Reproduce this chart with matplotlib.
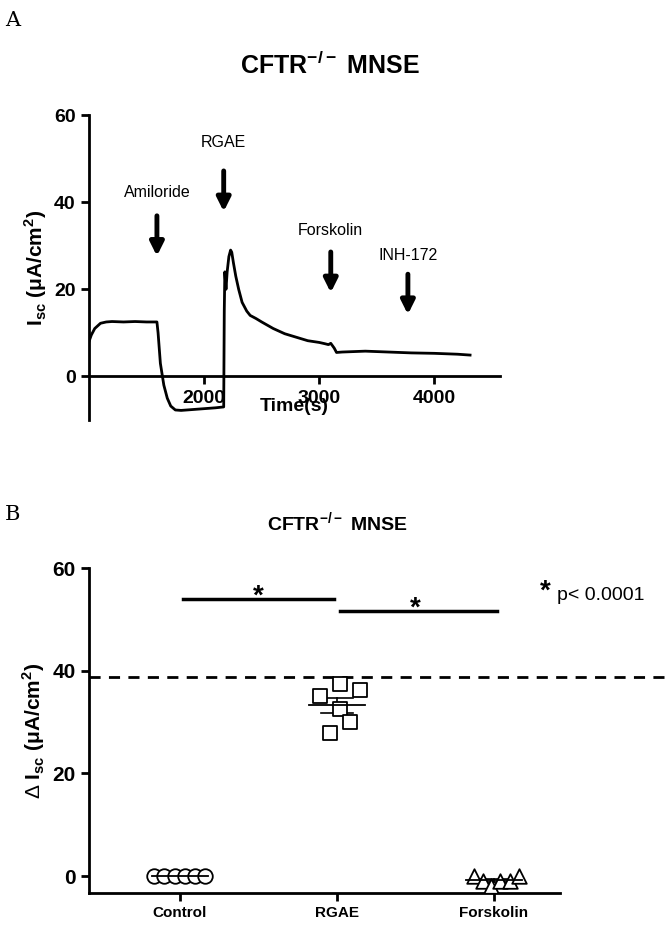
import matplotlib
matplotlib.use("Agg")
import matplotlib.pyplot as plt
import numpy as np

# Panel A trace
time_s = [1000, 1020, 1050, 1100, 1150, 1200, 1300, 1400, 1500, 1590, 1600, 1620, 1650, 1680, 1710, 1750, 1800, 1900, 2000, 2100, 2170,
          2175, 2180, 2190, 2200, 2215, 2230, 2240, 2255, 2275, 2300, 2330, 2370, 2400, 2450, 2500, 2600, 2700, 2800, 2900, 3000,
          3050, 3080, 3100, 3130, 3150, 3200, 3400, 3600, 3800, 4000, 4200, 4310]
isc = [8, 9.5, 11, 12.2, 12.5, 12.6, 12.5, 12.6, 12.5, 12.5, 10, 3, -2, -5, -6.8, -7.7, -7.8, -7.6, -7.4, -7.2, -7.0,
       15, 24, 20, 24, 27.5, 29, 28.5, 26, 23, 20, 17, 15, 14, 13.3, 12.5, 11, 9.8, 9, 8.2, 7.8,
       7.5, 7.3, 7.6, 6.5, 5.5, 5.6, 5.8, 5.6, 5.4, 5.3, 5.1, 4.9]
events = ["Amiloride", "RGAE", "Forskolin", "INH-172"]
event_t = [1590, 2170, 3100, 3770]
event_label_y = [42.3, 53.6, 33.6, 27.8]
event_arrow = [(37.5, 27), (47.8, 37.2), (29.2, 18.6), (24.1, 13.6)]

# Panel B
groups = ["Control", "RGAE", "Forskolin"]
control_vals = [0, 0, 0, 0, 0, 0]
control_x = [-0.165, -0.1, -0.035, 0.03, 0.095, 0.16]
rgae_vals = [37.5, 36.3, 35.1, 32.6, 30.1, 27.8]
rgae_x = [0.02, 0.147, -0.108, 0.02, 0.083, -0.045]
forsk_vals = [0, -1, -2, -1, -1, 0]
forsk_x = [-0.13, -0.07, -0.02, 0.04, 0.1, 0.16]
ref_line = 38.8
sig_bars = [(0, 1, 54.0), (1, 2, 51.6)]

W, H = 669, 934
plt.rcParams['font.family'] = 'Liberation Sans'
plt.rcParams['mathtext.fontset'] = 'custom'
plt.rcParams['mathtext.rm'] = 'Liberation Sans'
plt.rcParams['mathtext.bf'] = 'Liberation Sans:bold'
fig = plt.figure(figsize=(W/100, H/100), dpi=100)

fig.text(5/W, 1-20/H, "A", fontsize=15, family="DejaVu Serif", va="center")
fig.text(5/W, 1-515/H, "B", fontsize=15, family="DejaVu Serif", va="center")
fig.text(330/W, 1-65/H, r"CFTR$^{\mathbf{-/-}}$ MNSE", ha="center", va="center", fontsize=18, fontweight="bold")
fig.text(337/W, 1-523/H, r"CFTR$^{\mathbf{-/-}}$ MNSE", ha="center", va="center", fontsize=14, fontweight="bold")

# Panel A
ax = fig.add_axes([89/W, 1-420/H, 411/W, 305/H])
ax.plot(time_s, isc, color="black", lw=2)
ax.set_xlim(1000, 4570)
ax.set_ylim(-10, 60)
ax.spines['right'].set_visible(False)
ax.spines['top'].set_visible(False)
ax.spines['bottom'].set_position(('data', 0))
for s in ['left', 'bottom']:
    ax.spines[s].set_linewidth(2)
ax.set_yticks([0, 20, 40, 60])
ax.set_xticks([2000, 3000, 4000])
ax.tick_params(width=2, length=6, labelsize=14)
for lab in ax.get_xticklabels() + ax.get_yticklabels():
    lab.set_fontweight("bold")
ax.set_xlabel("Time(s)", fontsize=14, fontweight="bold", va="center")
ax.xaxis.set_label_coords(0.5, 0.043)
ax.set_ylabel(r"I$_{\mathbf{sc}}$ ($\mathbf{\mu}$A/cm$^{\mathbf{2}}$)", fontsize=15, fontweight="bold")
for name, t, ly, (a0, a1) in zip(events, event_t, event_label_y, event_arrow):
    ax.text(t, ly, name, ha="center", va="center", fontsize=11.5)
    ax.annotate("", xy=(t, a1), xytext=(t, a0),
                arrowprops=dict(arrowstyle="-|>,head_width=0.4,head_length=0.8", color="black", lw=3.5))

# Panel B
bx = fig.add_axes([89/W, 1-893/H, 471/W, 325/H])
bx.set_xlim(-0.58, 2.42)
bx.set_ylim(-3.3, 60)
bx.spines['right'].set_visible(False)
bx.spines['top'].set_visible(False)
bx.spines['left'].set_bounds(-3.3, 60)
for s in ['left', 'bottom']:
    bx.spines[s].set_linewidth(2)
bx.set_yticks([0, 20, 40, 60])
bx.set_xticks([0, 1, 2])
bx.set_xticklabels(groups)
bx.tick_params(width=2, length=6)
bx.tick_params(axis='y', labelsize=15)
bx.tick_params(axis='x', labelsize=11)
for lab in bx.get_xticklabels() + bx.get_yticklabels():
    lab.set_fontweight("bold")
bx.set_ylabel(r"$\Delta$ I$_{\mathbf{sc}}$ ($\mathbf{\mu}$A/cm$^{\mathbf{2}}$)", fontsize=15, fontweight="bold")

for xs, vs, m, c in [(control_x, control_vals, "o", 0), (rgae_x, rgae_vals, "s", 1), (forsk_x, forsk_vals, "^", 2)]:
    vs = np.array(vs)
    mean = vs.mean(); sem = vs.std(ddof=1)/np.sqrt(len(vs))
    bx.plot([c-0.18, c+0.18], [mean, mean], color="black", lw=1.3, zorder=4)
    if sem > 0:
        bx.plot([c-0.1, c+0.1], [mean+sem]*2, color="black", lw=1.2, zorder=2)
        bx.plot([c-0.1, c+0.1], [mean-sem]*2, color="black", lw=1.2, zorder=2)
        bx.plot([c, c], [mean-sem, mean+sem], color="black", lw=1.2, zorder=2)
    bx.scatter(np.array(xs)+c, vs, marker=m, s=110, facecolor="white", edgecolor="black", lw=1.3, zorder=3)

bx.axhline(ref_line, xmin=0, xmax=(669-89)/471, color="black", ls=(0, (4, 3)), lw=2, clip_on=False)
for a, b, y in sig_bars:
    bx.plot([a+0.02, b-0.02 if b == 1 else b+0.02], [y, y], color="black", lw=2.5)
    bx.text((a+b)/2, y+0.5, "*", ha="center", va="center", fontsize=20, fontweight="bold")
fig.text(540/W, 1-592/H, "*", fontsize=20, fontweight="bold", va="center")
fig.text(557/W, 1-595/H, "p< 0.0001", fontsize=14, va="center")

fig.savefig("out.png", dpi=100)
